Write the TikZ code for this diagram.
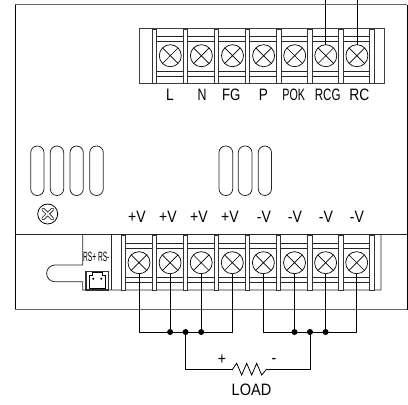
\documentclass[tikz,border=0pt]{standalone}
\usepackage{graphicx}
\usepackage{fontspec}
\setmainfont{Liberation Sans}
\tikzset{
  ln/.style={line width=0.8pt,black!85},
  frameln/.style={line width=1.2pt,black!60},
  post/.style={line width=0.9pt,draw=black!80,fill=white},
  screw/.style={circle,draw,line width=0.7pt,minimum size=22pt,inner sep=0pt,outer sep=0pt,
    path picture={\draw[line width=0.7pt] (path picture bounding box.north west)++(3.2pt,-3.2pt) -- ++(15.6pt,-15.6pt)
      (path picture bounding box.north east)++(-3.2pt,-3.2pt) -- ++(-15.6pt,-15.6pt);}},
  wire/.style={line width=0.8pt,black},
  dot/.style={circle,fill=black,inner sep=0pt,minimum size=6pt},
  vent/.style={line width=0.8pt,rounded corners=6.6pt,draw=black!85},
  lab/.style={inner sep=0pt,font=\fontsize{16.5pt}{16.5pt}\selectfont}
}
\newcommand{\sq}[2]{\scalebox{#1}[1]{#2}}
\begin{document}
\begin{tikzpicture}[x=1pt,y=-1pt]
\useasboundingbox (0,0) rectangle (408,405);
% housing
\draw[frameln] (15,4.5) -- (407,4.5);
\draw[line width=1pt,black] (15,4.5) -- (15,309.5);
\draw[line width=1pt,black] (407,4.5) -- (407,309.5);
\draw[frameln] (15,309.5) -- (407,309.5);
\draw[ln] (15,234) -- (407,234);
% cut-out of lower panel
\draw[ln] (82.7,234) -- (82.7,265) -- (55,265) arc[start angle=-90,end angle=-270,radius=8.4]
  -- (82.7,281.8) -- (82.7,290) -- (381,290) -- (381,234);
\draw[ln] (111,234) -- (111,290);
% top terminal block
\draw[line width=0.9pt,black!75] (139,28) rectangle (384,83);
\foreach \i in {0,...,6}{
  \pgfmathsetmacro{\xa}{154.3+31.1*\i}
  \pgfmathsetmacro{\xb}{\xa+31.1}
  \draw[ln] (\xa,36.7) -- (\xb,36.7) (\xa,41.7) -- (\xb,41.7) (\xa,71) -- (\xb,71) (\xa,76) -- (\xb,76);
}
\foreach \i in {0,...,7}{
  \pgfmathsetmacro{\xa}{154.3+31.1*\i}
  \draw[post] (\xa-2.3,29.5) rectangle (\xa+2.3,83.5);
}
\foreach \i [count=\n from 1] in {0,...,6}{
  \node[screw] (t\n) at ({170.3+31.1*\i},55.7) {};
}
\node[lab] (lL) at (170,95.3) {\sq{0.82}{L}};
\node[lab] (lN) at (202,95.3) {\sq{0.75}{N}};
\node[lab] (lFG) at (231.3,95.3) {\sq{0.8}{FG}};
\node[lab] (lP) at (263.3,95.3) {\sq{0.82}{P}};
\node[lab] (lPOK) at (293.7,95.3) {\sq{0.65}{POK}};
\node[lab] (lRCG) at (327.7,95.3) {\sq{0.7}{RCG}};
\node[lab] (lRC) at (359.3,95.3) {\sq{0.84}{RC}};
\coordinate (ta) at (t6 |- 0,0);
\coordinate (tb) at (t7 |- 0,0);
\draw[wire] (ta) -- (t6.north);
\draw[wire] (tb) -- (t7.north);
% vents
\foreach \xa/\xb in {30.7/44,50.3/63.7,70/83.3,89.7/103.3,219/232.7,238.3/252,258.3/271.5}{
  \draw[vent] (\xa,146) rectangle (\xb,195.5);
}
% ground screw
\node[circle,draw,line width=0.8pt,minimum size=20pt,inner sep=0pt] (gnd) at (47.7,214) {};
\draw[line width=3.4pt,black!90,line cap=round] (43,209.3) -- (52.4,218.7) (52.4,209.3) -- (43,218.7);
\draw[line width=1.8pt,white,line cap=round] (43,209.3) -- (52.4,218.7) (52.4,209.3) -- (43,218.7);
% lower terminal block
\foreach \i in {0,...,7}{
  \pgfmathsetmacro{\xa}{123.3+31.1*\i}
  \pgfmathsetmacro{\xb}{\xa+31.1}
  \draw[ln] (\xa,243.3) -- (\xb,243.3) (\xa,248.3) -- (\xb,248.3) (\xa,277.7) -- (\xb,277.7) (\xa,282.3) -- (\xb,282.3);
}
\foreach \i in {0,...,8}{
  \pgfmathsetmacro{\xa}{123.3+31.06*\i}
  \draw[post] (\xa-2.3,235) rectangle (\xa+2.3,290.7);
}
\foreach \i [count=\n from 1] in {0,...,7}{
  \node[screw] (b\n) at ({139+31.1*\i},262.7) {};
}
\foreach \x/\t/\s/\nm in {137/+V/0.85/p1,168/+V/0.85/p2,199/+V/0.85/p3,230/+V/0.85/p4,264/-V/0.85/m1,295/-V/0.85/m2,326/-V/0.85/m3,357/-V/0.85/m4}{
  \node[lab] (\nm) at (\x,216.7) {\sq{\s}{\t}};
}
% sense connector
\node[inner sep=0pt,font=\fontsize{13.5pt}{13.5pt}\selectfont] (rs) at (96.3,256.7) {\sq{0.49}{RS+ RS-}};
\node[draw,line width=1.2pt,black!80,minimum width=22.7pt,minimum height=18.7pt,inner sep=0pt] (conn) at (97.3,280.6) {};
\draw[line width=0.7pt] (89.3,288) -- (89.3,275) -- (92.5,275) -- (92.5,272.5) -- (102,272.5) -- (102,275) -- (105.3,275) -- (105.3,288) -- cycle;
\fill (93.3,278.7) circle[radius=1.1] (101.3,278.7) circle[radius=1.1];
% output wiring
\coordinate (pl) at (b1 |- 0,332);
\coordinate (pr) at (b4 |- 0,332);
\coordinate (ml) at (b5 |- 0,332);
\coordinate (mr) at (b8 |- 0,332);
\node[dot] (d1) at (b2 |- 0,332) {};
\node[dot] (d2) at (185.6,332) {};
\node[dot] (d3) at (b3 |- 0,332) {};
\node[dot] (d4) at (b6 |- 0,332) {};
\node[dot] (d5) at (310,332) {};
\node[dot] (d6) at (b7 |- 0,332) {};
\draw[wire] (b1.south) -- (pl) -- (pr) -- (b4.south);
\draw[wire] (b2.south) -- (d1);
\draw[wire] (b3.south) -- (d3);
\draw[wire] (b5.south) -- (ml) -- (mr) -- (b8.south);
\draw[wire] (b6.south) -- (d4);
\draw[wire] (b7.south) -- (d6);
% load
\coordinate (ra) at (232.7,369);
\coordinate (rb) at (266.7,369);
\draw[wire] (d2) |- (ra);
\draw[wire] (ra) -- (236.7,363.3) -- (241.7,375) -- (246.7,363.3) -- (251.7,375) -- (256.7,363.3) -- (261.7,375) -- (rb);
\draw[wire] (rb) -| (d5);
\node[lab] (plus) at (222,360) {\sq{0.85}{+}};
\node[lab] (minus) at (274,361) {\sq{0.85}{-}};
\node[lab] (load) at (251.5,390) {\sq{0.88}{LOAD}};
\end{tikzpicture}
\end{document}
